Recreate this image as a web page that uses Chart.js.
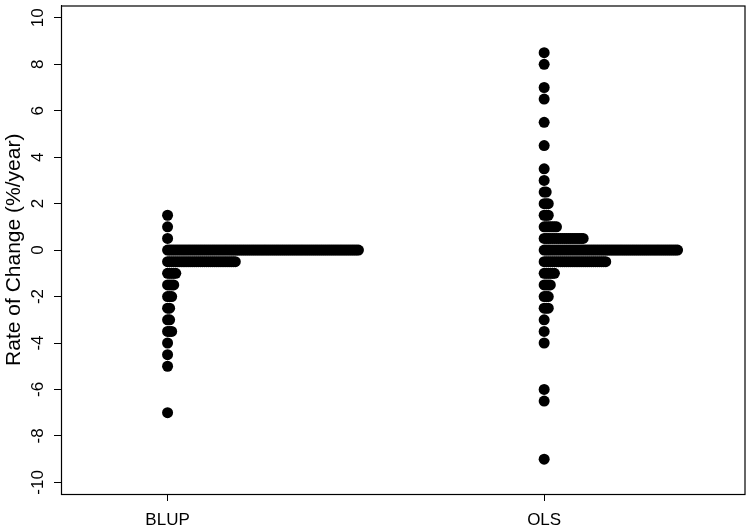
<!DOCTYPE html>
<html>
<head>
<meta charset="utf-8">
<script src="https://cdn.jsdelivr.net/npm/chart.js@4"></script>
<style>
  body { margin: 0; background: #fff; }
  #wrap { width: 750px; height: 529px; position: relative; }
</style>
</head>
<body>
<div id="wrap"><canvas id="chartStrip"></canvas></div>
<script>
// groups on the x axis
const groups = ['BLUP', 'OLS'];

// BLUP estimates (rounded to 0.5) and how many fall on each value
const blupValues = [1.5, 1, 0.5, 0, -0.5, -1, -1.5, -2, -2.5, -3, -3.5, -4, -4.5, -5, -7];
const blupCounts = [1, 1, 1, 94, 34, 5, 4, 3, 2, 2, 3, 1, 1, 1, 1];

// OLS estimates
const olsValues = [8.5, 8, 7, 6.5, 5.5, 4.5, 3.5, 3, 2.5, 2, 1.5, 1, 0.5, 0, -0.5, -1, -1.5, -2, -2.5, -3, -3.5, -4, -6, -6.5, -9];
const olsCounts = [1, 1, 1, 1, 1, 1, 1, 1, 2, 3, 3, 7, 20, 66, 31, 6, 4, 3, 3, 1, 1, 1, 1, 1, 1];

const yTicks = [-10, -8, -6, -4, -2, 0, 2, 4, 6, 8, 10];

// stripchart(method = "stack"): repeated values are pushed to the right
const stackStep = 0.00545;
function stackPoints(groupPos, values, counts) {
    const pts = [];
    values.forEach((v, i) => {
        for (let k = 0; k < counts[i]; k++) {
            pts.push({ x: groupPos + k * stackStep, y: v });
        }
    });
    return pts;
}

const labelFont = { family: 'Liberation Sans, Arial, sans-serif', size: 17 };

// R style box + rotated y tick labels
const rStyle = {
    id: 'rStyle',
    afterDraw(chart) {
        const { ctx, chartArea: a } = chart;
        const y = chart.scales.y;
        ctx.save();
        ctx.strokeStyle = '#000';
        ctx.lineWidth = 1.2;
        ctx.strokeRect(a.left + 0.5, a.top + 0.5, a.right - a.left, a.bottom - a.top);

        ctx.fillStyle = '#000';
        ctx.font = `${labelFont.size}px ${labelFont.family}`;
        ctx.textAlign = 'center';
        ctx.textBaseline = 'middle';
        yTicks.forEach(v => {
            ctx.save();
            ctx.translate(38, y.getPixelForValue(v));
            ctx.rotate(-Math.PI / 2);
            ctx.fillText(String(v), 0, 0);
            ctx.restore();
        });
        ctx.restore();
    }
};

new Chart(document.getElementById('chartStrip').getContext('2d'), {
    type: 'scatter',
    data: {
        datasets: [{
            data: stackPoints(1, blupValues, blupCounts),
            backgroundColor: '#000',
            borderWidth: 0,
            pointRadius: 5.5
        }, {
            data: stackPoints(2, olsValues, olsCounts),
            backgroundColor: '#000',
            borderWidth: 0,
            pointRadius: 5.5
        }]
    },
    options: {
        responsive: true,
        maintainAspectRatio: false,
        animation: false,
        events: [],
        layout: {
            padding: { top: 3, right: 4, left: 0, bottom: 0 }
        },
        plugins: {
            legend: { display: false },
            tooltip: { enabled: false }
        },
        scales: {
            x: {
                type: 'linear',
                min: 0.717,
                max: 2.532,
                afterBuildTicks: scale => { scale.ticks = groups.map((g, i) => ({ value: i + 1 })); },
                afterFit: scale => { scale.height = 35; },
                ticks: {
                    color: '#000',
                    font: labelFont,
                    padding: 9,
                    maxRotation: 0,
                    callback: value => groups[value - 1]
                },
                grid: {
                    drawOnChartArea: false,
                    drawTicks: true,
                    tickLength: 7,
                    color: '#000'
                },
                border: { display: true, color: '#000' }
            },
            y: {
                min: -10.5,
                max: 10.53,
                afterBuildTicks: scale => { scale.ticks = yTicks.map(v => ({ value: v })); },
                afterFit: scale => { scale.width = 61; },
                ticks: { display: false },
                grid: {
                    drawOnChartArea: false,
                    drawTicks: true,
                    tickLength: 7,
                    color: '#000'
                },
                border: { display: true, color: '#000' },
                title: {
                    display: true,
                    text: 'Rate of Change (%/year)',
                    color: '#000',
                    font: { family: 'Liberation Sans, Arial, sans-serif', size: 21 },
                    padding: { top: 2, bottom: 0 }
                }
            }
        }
    },
    plugins: [rStyle]
});
</script>
</body>
</html>
